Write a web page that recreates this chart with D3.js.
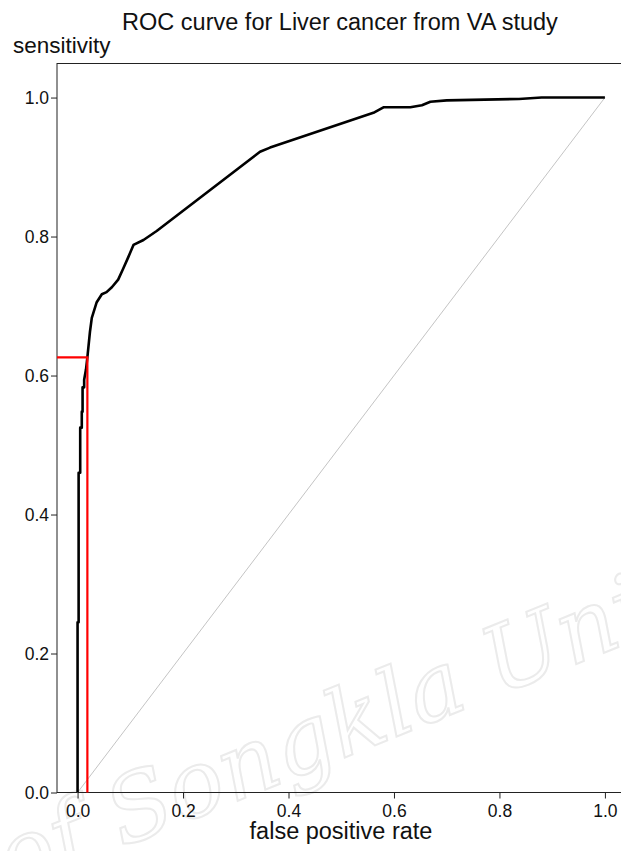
<!DOCTYPE html>
<html>
<head>
<meta charset="utf-8">
<script src="https://cdn.jsdelivr.net/npm/d3@7"></script>
<style>
  body { margin: 0; background: #fff; }
  svg { display: block; }
</style>
</head>
<body>
<svg id="chart" width="621" height="851"></svg>
<script>
// ROC curve points
const fpr = [0, 0, 0.002, 0.002, 0.005, 0.005, 0.008, 0.008, 0.0095, 0.0095, 0.0125, 0.0125,
  0.016, 0.0186, 0.0235, 0.027, 0.036, 0.046, 0.055, 0.065, 0.077, 0.086, 0.096, 0.106,
  0.125, 0.150, 0.346, 0.365, 0.561, 0.580, 0.631, 0.653, 0.669, 0.700, 0.837, 0.880, 1.0];
const sens = [0, 0.245, 0.245, 0.46, 0.46, 0.525, 0.525, 0.548, 0.548, 0.583, 0.583, 0.594,
  0.609, 0.626, 0.663, 0.683, 0.705, 0.717, 0.72, 0.727, 0.738, 0.753, 0.770, 0.788,
  0.795, 0.808, 0.922, 0.928, 0.978, 0.986, 0.986, 0.989, 0.994, 0.996, 0.998, 1.0, 1.0];
// best cut-off (red lines)
const cutPoint = [0.0186, 0.626];
const xTicks = [0, 0.2, 0.4, 0.6, 0.8, 1.0];
const yTicks = [0, 0.2, 0.4, 0.6, 0.8, 1.0];

const title = "ROC curve for Liver cancer from VA study";
const xLabel = "false positive rate";
const yLabel = "sensitivity";

const svg = d3.select("#chart");
const font = "Arial, 'Liberation Sans', sans-serif";

// domain of the panel (R style padding)
const x = d3.scaleLinear().domain([-0.039, 1.04]).range([57, 626]);
const y = d3.scaleLinear().domain([0, 1.049]).range([792.5, 63.5]);

// faint watermark (cut by the edges, as in the source)
svg.append("text")
  .attr("transform", "translate(12,892) rotate(-22)")
  .attr("font-family", "'DejaVu Serif', serif")
  .attr("font-style", "italic")
  .attr("font-size", 92)
  .attr("fill", "none")
  .attr("stroke", "#ebebeb")
  .attr("stroke-width", 2)
  .text("of Songkla Uni");

// panel frame
svg.append("rect")
  .attr("x", x(-0.039)).attr("y", y(1.049))
  .attr("width", x(1.04) - x(-0.039)).attr("height", y(0) - y(1.049))
  .attr("fill", "none").attr("stroke", "#222").attr("stroke-width", 1);

// axes
const xAxis = svg.append("g")
  .attr("transform", `translate(0,${y(0)})`)
  .call(d3.axisBottom(x).tickValues(xTicks).tickFormat(d3.format(".1f")).tickSize(6).tickPadding(4));
const yAxis = svg.append("g")
  .attr("transform", `translate(${x(-0.039)},0)`)
  .call(d3.axisLeft(y).tickValues(yTicks).tickFormat(d3.format(".1f")).tickSize(6).tickPadding(2));

[xAxis, yAxis].forEach(a => {
  a.select(".domain").remove();
  a.selectAll("line").attr("stroke", "#222");
  a.selectAll("text")
    .attr("font-family", font)
    .attr("font-size", 17.5)
    .attr("fill", "#111");
});
xAxis.selectAll("text").attr("dy", "0.85em");
yAxis.selectAll("text").attr("dy", "0.36em");

// reference diagonal
svg.append("line")
  .attr("x1", x(0)).attr("y1", y(0))
  .attr("x2", x(1)).attr("y2", y(1))
  .attr("stroke", "#c4c4c4").attr("stroke-width", 1);

// ROC curve
const pts = fpr.map((f, i) => [f, sens[i]]);
svg.append("path")
  .datum(pts)
  .attr("fill", "none")
  .attr("stroke", "#000")
  .attr("stroke-width", 2.6)
  .attr("stroke-linejoin", "round")
  .attr("d", d3.line().x(d => x(d[0])).y(d => y(d[1])));

// cut-off lines
svg.append("path")
  .attr("fill", "none")
  .attr("stroke", "#ff0000")
  .attr("stroke-width", 2.2)
  .attr("d", d3.line()([
    [x(-0.039), y(cutPoint[1])],
    [x(cutPoint[0]), y(cutPoint[1])],
    [x(cutPoint[0]), y(0)]
  ]));

// titles
svg.append("text")
  .attr("x", 340).attr("y", 30)
  .attr("text-anchor", "middle")
  .attr("font-family", font).attr("font-size", 23.5)
  .attr("fill", "#111")
  .text(title);

svg.append("text")
  .attr("x", 13).attr("y", 53)
  .attr("font-family", font).attr("font-size", 22.5)
  .attr("fill", "#111")
  .text(yLabel);

svg.append("text")
  .attr("x", 341).attr("y", 839)
  .attr("text-anchor", "middle")
  .attr("font-family", font).attr("font-size", 23.5)
  .attr("fill", "#111")
  .text(xLabel);
</script>
</body>
</html>
